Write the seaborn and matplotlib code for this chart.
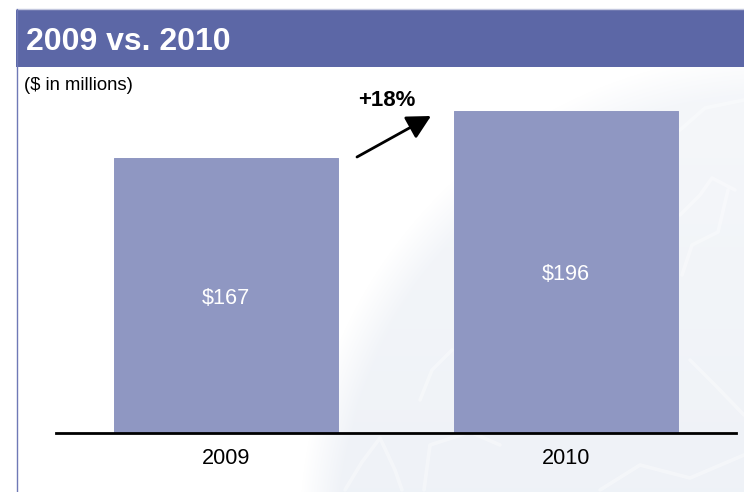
import matplotlib
matplotlib.use("Agg")
import matplotlib.pyplot as plt
import numpy as np
import pandas as pd
import seaborn as sns
from matplotlib.patches import Rectangle
from matplotlib.transforms import offset_copy

# Annual revenue, $ in millions
years = ["2009", "2010"]
revenue = [167, 196]
value_labels = ["$167", "$196"]
growth_label = "+18%"
heading = "2009 vs. 2010"
unit_note = "($ in millions)"

BAND = "#5c67a6"
BAR = "#8f97c2"
W, H = 744, 492

sns.set_theme(style="white")
plt.rcParams["font.family"] = ["Liberation Sans", "DejaVu Sans"]

fig = plt.figure(figsize=(W / 100, H / 100), dpi=100, facecolor="white")


def fx(px):
    return px / W


def fy(py):
    return 1 - py / H


# Page backdrop: pale globe with a soft limb, faint coastlines, heading band, left rule
bg = fig.add_axes([0, 0, 1, 1], zorder=0)
bg.set_xlim(0, W)
bg.set_ylim(H, 0)
bg.axis("off")
yy, xx = np.mgrid[0:H, 0:W]
dist = np.hypot(xx - 780, yy - 533)
fade = np.clip((481 - dist) / 40, 0, 1)
shade = np.clip(0.6 + (yy - 67) / 425 * 0.4, 0, 1) * fade
white = np.array([1.0, 1.0, 1.0])
sea = np.array([0.937, 0.949, 0.969])
img = white + (sea - white) * shade[..., None]
bg.imshow(img, extent=(0, W, H, 0), aspect="auto", zorder=0, interpolation="bilinear")

coast_lines = [
    [(680, 215), (700, 195), (712, 178), (735, 190)],
    [(682, 275), (692, 245), (718, 232), (728, 190)],
    [(690, 360), (715, 385), (744, 415)],
    [(680, 130), (705, 108), (744, 100)],
    [(345, 490), (362, 462), (380, 438), (395, 470), (402, 490)],
    [(424, 490), (430, 445), (470, 432), (500, 445)],
    [(420, 400), (432, 370), (452, 350)],
    [(600, 490), (640, 465), (690, 478), (744, 455)],
]
for line in coast_lines:
    xs, ys = zip(*line)
    bg.plot(xs, ys, color="white", lw=2.6, alpha=0.35, solid_capstyle="round", zorder=1)

bg.add_patch(Rectangle((16, 9), W - 16, 58, color=BAND, lw=0, zorder=2))
bg.plot([16, W], [8.5, 8.5], color="#c3c7de", lw=1, zorder=2)
bg.plot([16.5, 16.5], [9, H], color="#6f79b6", lw=1, zorder=2)
bg.set_xlim(0, W)
bg.set_ylim(H, 0)

# Bars on a common baseline
ax = fig.add_axes([fx(56), fy(433), fx(680), 366 / H], zorder=1)
ax.patch.set_alpha(0)
data = pd.DataFrame({"year": years, "revenue": revenue})
sns.barplot(data=data, x="year", y="revenue", color=BAR, saturation=1,
            width=0.657, linewidth=0.7, edgecolor=BAR, ax=ax)
for bar in ax.patches:
    bar.set_joinstyle("round")
ax.set_xlim(-0.5, 1.5)
ax.set_ylim(0, 222.5)
ax.set_xlabel("")
ax.set_ylabel("")
ax.set_yticks([])
ax.tick_params(axis="x", length=0, pad=10.5, labelsize=15.6, labelcolor="black")
for side in ("top", "left", "right"):
    ax.spines[side].set_visible(False)
ax.spines["bottom"].set_color("black")
ax.spines["bottom"].set_linewidth(2)

# Value labels sit just below each bar's midpoint
label_tf = offset_copy(ax.transData, fig=fig, y=-2.5, units="dots")
for i, (val, lab) in enumerate(zip(revenue, value_labels)):
    ax.text(i, val / 2, lab, ha="center", va="center", color="white", fontsize=15.6,
            transform=label_tf)

# Heading and note
fig.text(fx(26), fy(41.5), heading, color="white", fontsize=23, fontweight="bold",
         ha="left", va="center")
fig.text(fx(24), fy(86), unit_note, color="black", fontsize=13.3, ha="left", va="center")

# Growth callout
fig.text(fx(387), fy(100.5), growth_label, color="black", fontsize=16, fontweight="bold",
         ha="center", va="center")
ax.annotate("", xy=(fx(431), fy(116)), xytext=(fx(357), fy(157)),
            xycoords="figure fraction", textcoords="figure fraction",
            arrowprops=dict(arrowstyle="-|>,head_length=0.8,head_width=0.42", color="black",
                            lw=2, shrinkA=0, shrinkB=0, mutation_scale=18))

fig.savefig("out.png", dpi=100, facecolor="white")
